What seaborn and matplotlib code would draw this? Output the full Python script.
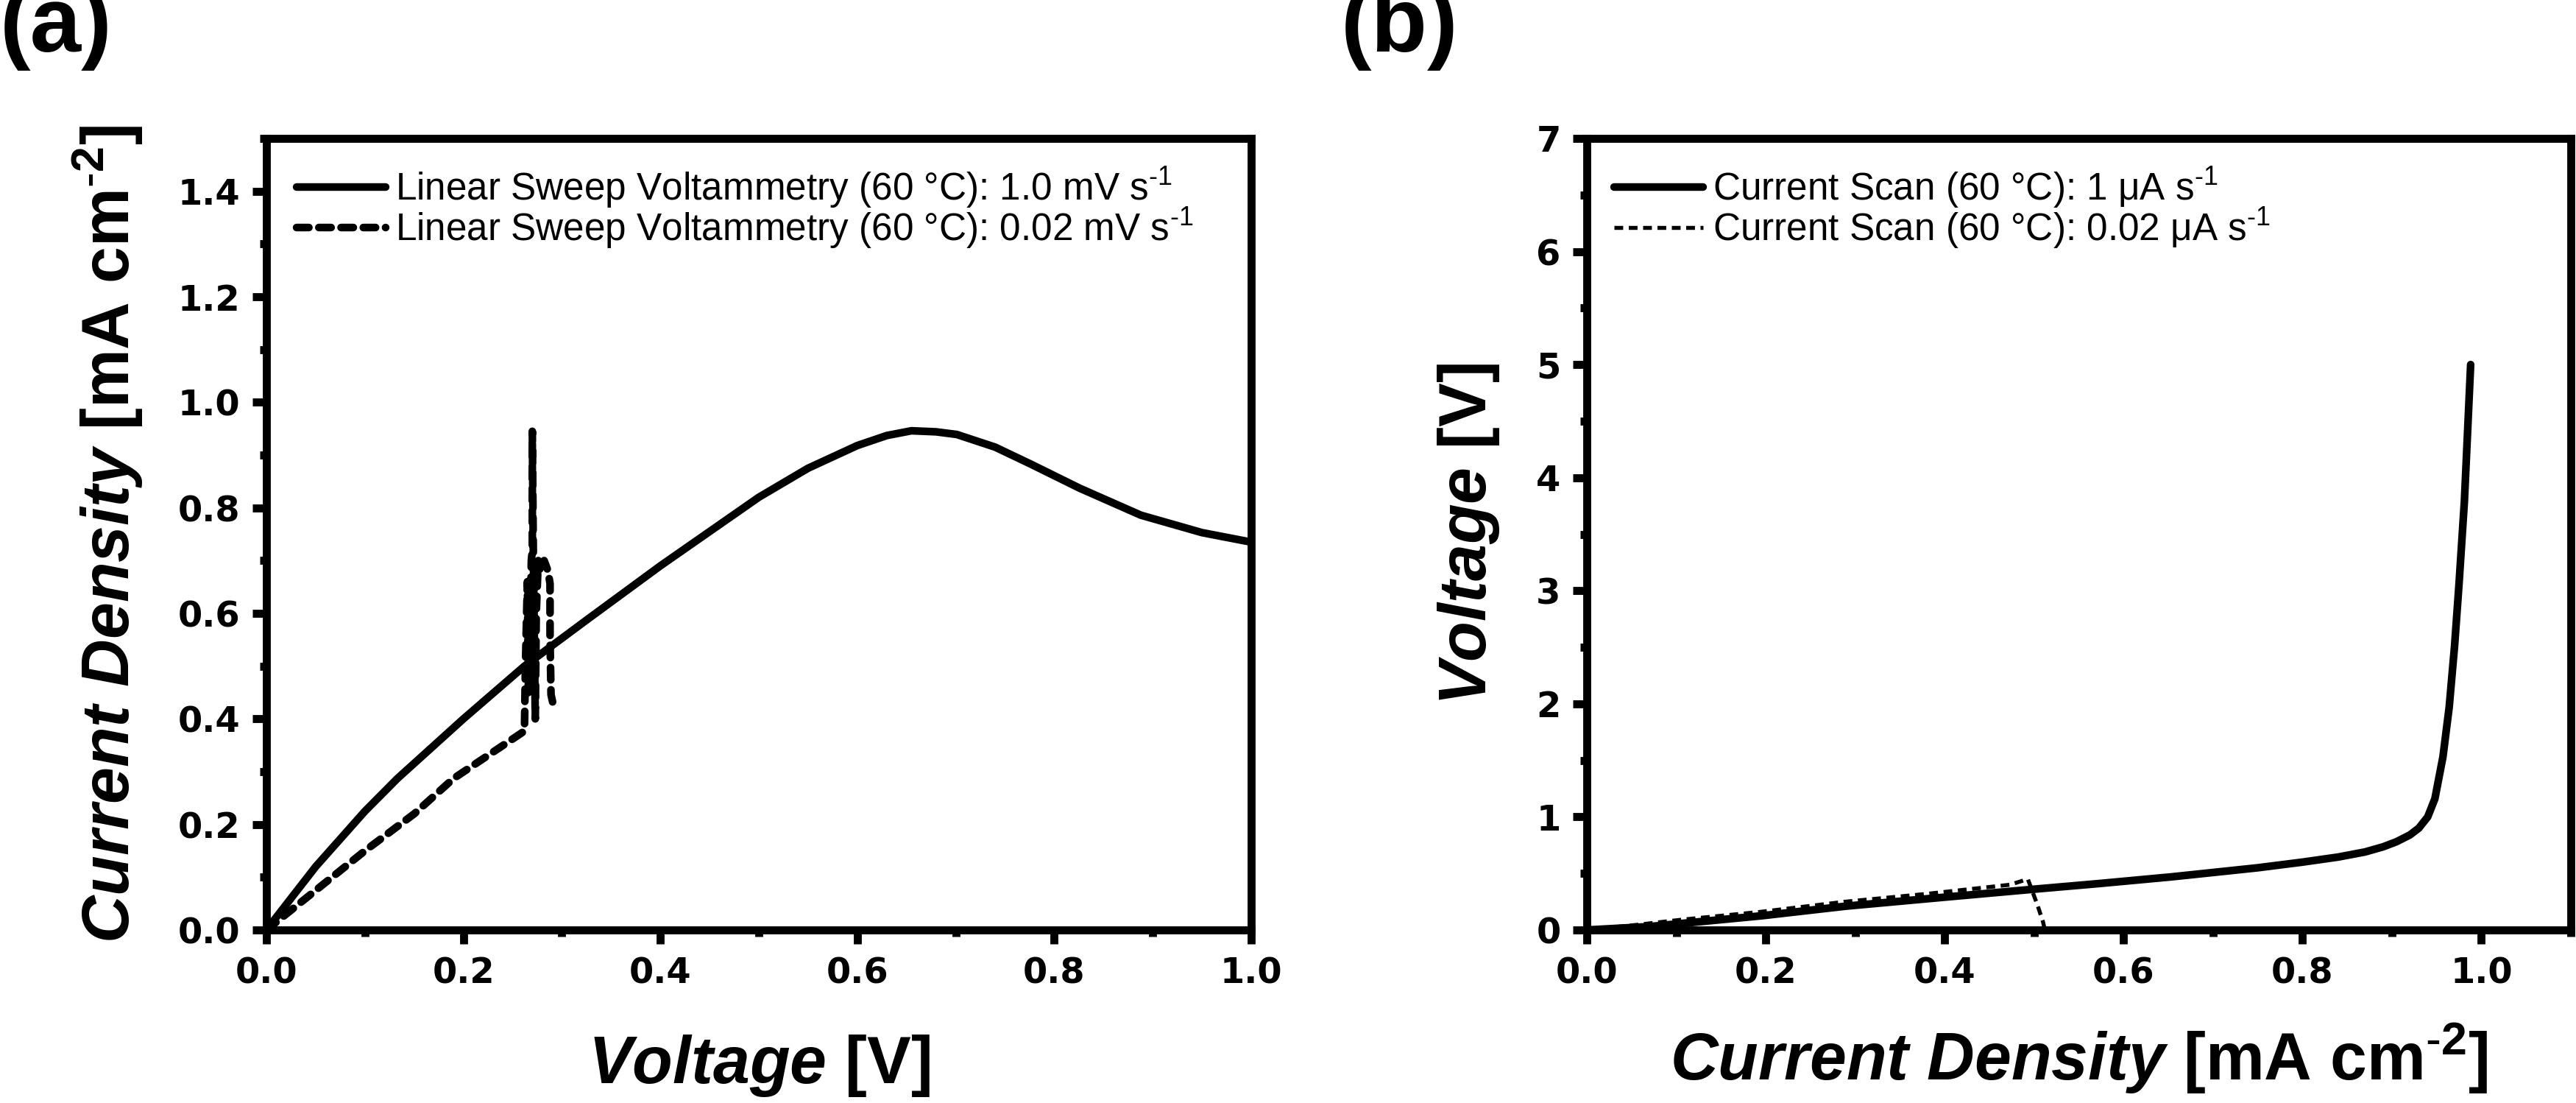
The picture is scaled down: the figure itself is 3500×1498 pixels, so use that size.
import numpy as np
import pandas as pd
import matplotlib
matplotlib.use("Agg")
import matplotlib.pyplot as plt
import seaborn as sns
from matplotlib.ticker import MultipleLocator, FormatStrFormatter

# ---------------- data ----------------
# (a) Linear sweep voltammetry, 1.0 mV/s  (voltage V, current density mA cm-2)
va_fast = [0, 0.05, 0.1, 0.133, 0.2, 0.262, 0.327, 0.4, 0.45, 0.5, 0.55, 0.6, 0.63,
           0.655, 0.68, 0.701, 0.74, 0.776, 0.826, 0.888, 0.95, 1.0]
ja_fast = [0, 0.12, 0.225, 0.287, 0.40, 0.50, 0.59, 0.69, 0.755, 0.82, 0.875, 0.918, 0.937,
           0.946, 0.944, 0.939, 0.915, 0.883, 0.837, 0.786, 0.753, 0.735]
# (a) Linear sweep voltammetry, 0.02 mV/s
va_slow = [0, 0.05, 0.1, 0.15, 0.19, 0.262, 0.263, 0.265, 0.266, 0.268, 0.269, 0.270,
           0.270, 0.271, 0.273, 0.274, 0.276, 0.278, 0.282, 0.286, 0.288, 0.288, 0.289, 0.292]
ja_slow = [0, 0.075, 0.15, 0.22, 0.287, 0.377, 0.50, 0.66, 0.45, 0.60, 0.70, 0.72,
           0.945, 0.72, 0.40, 0.60, 0.70, 0.68, 0.70, 0.68, 0.656, 0.55, 0.446, 0.42]
# (b) Current scan, 1 uA/s  (current density mA cm-2, voltage V)
jb_fast = [0, 0.07, 0.142, 0.195, 0.289, 0.40, 0.499, 0.572, 0.654, 0.75, 0.80, 0.84,
           0.87, 0.89, 0.905, 0.92, 0.93, 0.94, 0.948, 0.957, 0.964, 0.970, 0.975, 0.981, 0.988]
vb_fast = [0, 0.03, 0.085, 0.125, 0.21, 0.29, 0.36, 0.41, 0.47, 0.55, 0.60, 0.645,
           0.69, 0.735, 0.78, 0.84, 0.90, 1.0, 1.16, 1.53, 1.97, 2.51, 3.06, 3.79, 5.0]
# (b) Current scan, 0.02 uA/s
jb_slow = [0, 0.05, 0.105, 0.194, 0.289, 0.381, 0.473, 0.493, 0.504, 0.51, 0.512]
vb_slow = [0, 0.04, 0.09, 0.16, 0.25, 0.32, 0.40, 0.45, 0.215, 0.07, 0.0]

labels_a = [r"Linear Sweep Voltammetry (60 °C): 1.0 mV s$^{\text{-}1}$",
            r"Linear Sweep Voltammetry (60 °C): 0.02 mV s$^{\text{-}1}$"]
labels_b = [r"Current Scan (60 °C): 1 μA s$^{\text{-}1}$",
            r"Current Scan (60 °C): 0.02 μA s$^{\text{-}1}$"]

# ---------------- style ----------------
sns.set_style("ticks")
plt.rcParams["font.family"] = ["Liberation Sans", "DejaVu Sans"]
plt.rcParams["mathtext.fontset"] = "custom"
plt.rcParams["mathtext.rm"] = "Liberation Sans"
plt.rcParams["mathtext.it"] = "Liberation Sans:italic"
plt.rcParams["mathtext.bf"] = "Liberation Sans:bold"
plt.rcParams["mathtext.bfit"] = "Liberation Sans:italic:bold"
plt.rcParams["mathtext.default"] = "regular"
for k in ("text.color", "axes.labelcolor", "xtick.color", "ytick.color", "axes.edgecolor"):
    plt.rcParams[k] = "black"

W, H = 3500, 1498
fig = plt.figure(figsize=(W / 300, H / 300), dpi=300)
bottom = 1 - 1263 / H
top = 1 - 188 / H
axa = fig.add_axes([362 / W, bottom, (1700 - 362) / W, top - bottom])
axb = fig.add_axes([2156 / W, bottom, (3493 - 2156) / W, top - bottom])

LW = 2.5
sns.lineplot(x=va_fast, y=ja_fast, ax=axa, sort=False, estimator=None, color="black",
             lw=LW, label=labels_a[0])
sns.lineplot(x=va_slow, y=ja_slow, ax=axa, sort=False, estimator=None, color="black",
             lw=LW, linestyle=(0, (1.6, 1.3)), dash_capstyle="round", label=labels_a[1])
sns.lineplot(x=jb_fast, y=vb_fast, ax=axb, sort=False, estimator=None, color="black",
             lw=LW, label=labels_b[0])
sns.lineplot(x=jb_slow, y=vb_slow, ax=axb, sort=False, estimator=None, color="black",
             lw=1.3, linestyle=(0, (2.2, 1.4)), label=labels_b[1])

def style_axes(ax, xlim, ylim, xmaj, xmin, ymaj, ymin, xfmt, yfmt):
    ax.set_xlim(*xlim)
    ax.set_ylim(*ylim)
    ax.xaxis.set_major_locator(MultipleLocator(xmaj))
    ax.xaxis.set_minor_locator(MultipleLocator(xmin))
    ax.yaxis.set_major_locator(MultipleLocator(ymaj))
    ax.yaxis.set_minor_locator(MultipleLocator(ymin))
    ax.xaxis.set_major_formatter(FormatStrFormatter(xfmt))
    ax.yaxis.set_major_formatter(FormatStrFormatter(yfmt))
    for s in ax.spines.values():
        s.set_visible(True)
        s.set_linewidth(2.6)
        s.set_color("black")
    ax.tick_params(which="major", direction="out", length=4.5, width=2.6,
                   labelsize=11.5, pad=4, top=False, right=False, colors="black")
    ax.tick_params(which="minor", direction="out", length=2.2, width=2.6,
                   top=False, right=False)
    for lab in ax.get_xticklabels() + ax.get_yticklabels():
        lab.set_fontfamily("DejaVu Sans")
        lab.set_fontweight("bold")

style_axes(axa, (0, 1.0), (0, 1.5), 0.2, 0.1, 0.2, 0.1, "%.1f", "%.1f")
style_axes(axb, (0, 1.1), (0, 7), 0.2, 0.1, 1, 0.5, "%.1f", "%d")

LABFS = 21.5
lab_cd = r"$\mathbfit{Current\ Density}$ $\mathbf{[mA\ cm^{\text{-}2}]}$"
lab_v = r"$\mathbfit{Voltage}$ $\mathbf{[V]}$"
axa.set_xlabel(lab_v, fontsize=LABFS, color="black")
axa.set_ylabel(lab_cd, fontsize=LABFS, color="black")
axb.set_xlabel(lab_cd, fontsize=LABFS, color="black")
axb.set_ylabel(lab_v, fontsize=LABFS, color="black")
axa.xaxis.set_label_coords(0.5, -0.13)
axb.xaxis.set_label_coords(0.5, -0.115)
axa.yaxis.set_label_coords(-0.123, 0.5)
axb.yaxis.set_label_coords(-0.087, 0.5)

for ax, x0 in ((axa, 0.031), (axb, 0.028)):
    leg = ax.legend(loc="upper left", bbox_to_anchor=(x0, 0.966), frameon=False,
                    fontsize=12.3, handlelength=2.35, handletextpad=0.25,
                    labelspacing=-0.12, borderpad=0, borderaxespad=0)
    for t in leg.get_texts():
        t.set_color("black")

fig.text(0.0, 1 - 70 / H, "(a)", fontsize=30, fontweight="bold", ha="left", va="baseline")
fig.text(1822 / W, 1 - 70 / H, "(b)", fontsize=30, fontweight="bold", ha="left", va="baseline")

fig.savefig("out.png", dpi=300, facecolor="white")
